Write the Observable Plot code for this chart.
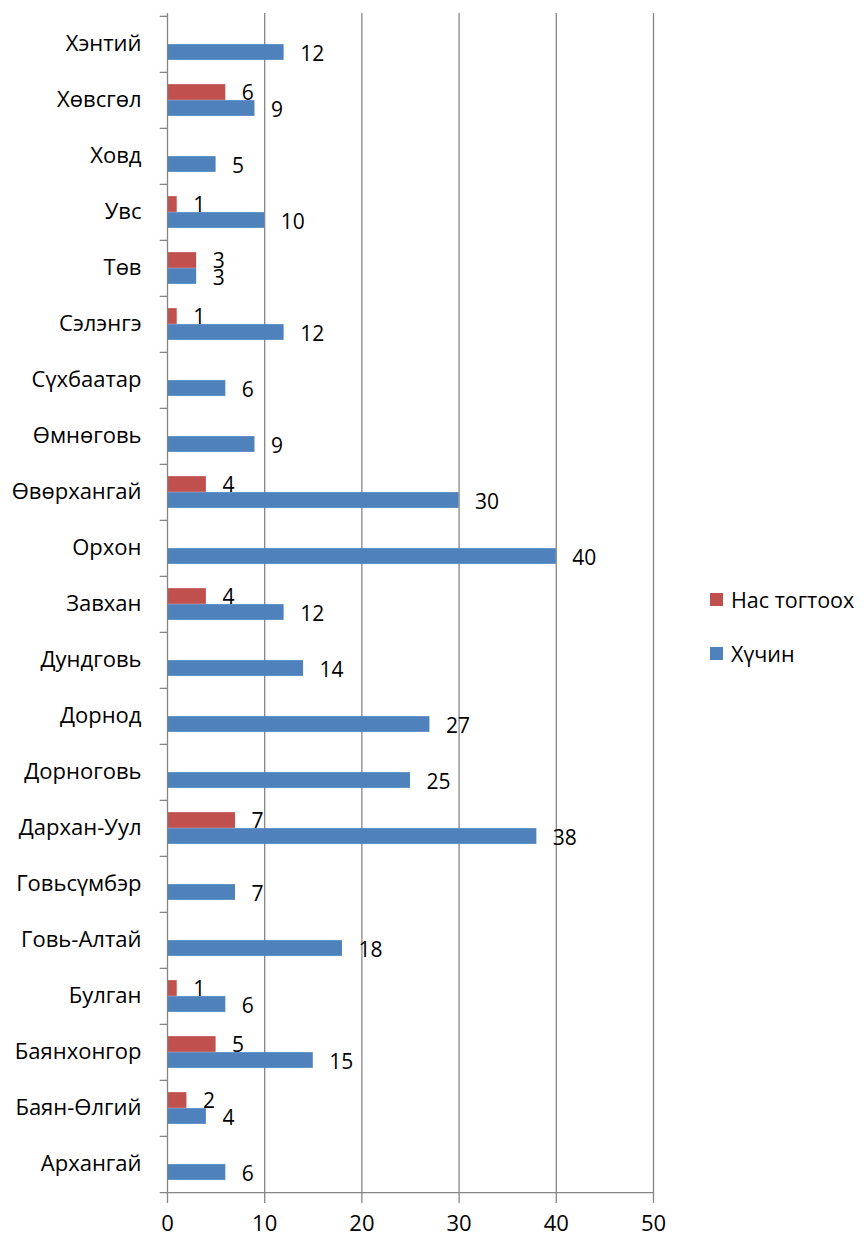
<!DOCTYPE html>
<html>
<head>
<meta charset="utf-8">
<script src="https://cdn.jsdelivr.net/npm/d3@7"></script>
<script src="https://cdn.jsdelivr.net/npm/@observablehq/plot@0.6"></script>
<style>
  html, body { margin: 0; padding: 0; background: #fff; }
  #wrap { position: relative; width: 864px; height: 1245px; font-family: "Open Sans", sans-serif; }
  #legend { position: absolute; left: 710px; top: 584px; font-size: 21.5px; color: #000; }
  .item { display: flex; align-items: center; height: 30px; margin-bottom: 24px; }
  .sw { width: 13px; height: 13px; margin-right: 8px; }
</style>
</head>
<body>
<div id="wrap">
  <div id="chart"></div>
  <div id="legend"></div>
</div>
<script>
const categories = ["Хэнтий","Хөвсгөл","Ховд","Увс","Төв","Сэлэнгэ","Сүхбаатар","Өмнөговь","Өвөрхангай","Орхон","Завхан","Дундговь","Дорнод","Дорноговь","Дархан-Уул","Говьсүмбэр","Говь-Алтай","Булган","Баянхонгор","Баян-Өлгий","Архангай"];
const huchin = [12,9,5,10,3,12,6,9,30,40,12,14,27,25,38,7,18,6,15,4,6];
const nasTogtooh = [null,6,null,1,3,1,null,null,4,null,4,null,null,null,7,null,null,1,5,2,null];
const seriesNames = ["Нас тогтоох","Хүчин"];
const seriesColors = ["#C0504D","#4F81BD"];
const xTicks = [0,10,20,30,40,50];

const blueData = categories.map((c,i) => ({cat: c, v: huchin[i]}));
const redData = categories.map((c,i) => ({cat: c, v: nasTogtooh[i]})).filter(d => d.v != null);

const half = (1245 - 50 - 13) / categories.length / 2;
const grey = "#868686";

const plot = Plot.plot({
  width: 864,
  height: 1245,
  marginTop: 13,
  marginBottom: 50,
  marginLeft: 167,
  marginRight: 211,
  style: {fontFamily: "'Open Sans', sans-serif", fontSize: "20px", color: "#000", background: "#fff"},
  x: {domain: [0, 50], label: null},
  y: {domain: categories, type: "band", padding: 0, label: null},
  marks: [
    Plot.gridX(xTicks.slice(1), {stroke: grey, strokeOpacity: 1, strokeWidth: 1.3}),
    Plot.barX(redData, {x: "v", y: "cat", fill: seriesColors[0], insetTop: half - 16, insetBottom: half}),
    Plot.barX(blueData, {x: "v", y: "cat", fill: seriesColors[1], insetTop: half, insetBottom: half - 16}),
    Plot.ruleX([0], {stroke: grey, strokeWidth: 1.3}),
    Plot.ruleY(categories, {y: d => d, x1: -0.75, x2: 0, dy: -half, stroke: grey, strokeWidth: 1.3}),
    Plot.ruleY([categories[categories.length - 1]], {y: d => d, x1: -0.75, x2: 50, dy: half, stroke: grey, strokeWidth: 1.3}),
    Plot.text(redData, {x: "v", y: "cat", text: d => String(d.v), dx: 16, dy: -7, textAnchor: "start", fontSize: 21, fill: "#000"}),
    Plot.text(blueData, {x: "v", y: "cat", text: d => String(d.v), dx: 16, dy: 10, textAnchor: "start", fontSize: 21, fill: "#000"}),
    Plot.axisX(xTicks, {label: null, tickSize: 8, tickPadding: 12, fontSize: 22, stroke: grey, strokeWidth: 1.3, fill: "#000"}),
    Plot.axisY({label: null, tickSize: 0, tickPadding: 26, fontSize: 22, dy: -1, fill: "#000"})
  ]
});
document.getElementById("chart").appendChild(plot);

const legend = document.getElementById("legend");
seriesNames.forEach((n, i) => {
  const it = document.createElement("div");
  it.className = "item";
  const sw = document.createElement("div");
  sw.className = "sw";
  sw.style.background = seriesColors[i];
  const t = document.createElement("span");
  t.textContent = n;
  it.appendChild(sw); it.appendChild(t);
  legend.appendChild(it);
});
</script>
</body>
</html>
